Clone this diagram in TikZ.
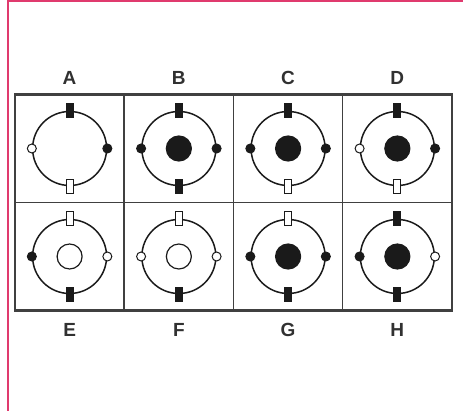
\documentclass[tikz,border=0pt]{standalone}
\usepackage{fontspec}
\setmainfont{Liberation Sans}
\usetikzlibrary{positioning}
\definecolor{pagepink}{HTML}{E03A6E}
\definecolor{inkgray}{HTML}{404040}
\definecolor{inkblack}{HTML}{1A1A1A}

\begin{document}
\begin{tikzpicture}[x=1pt, y=-1pt,
  cell/.style={rectangle, draw=inkgray, line width=1.5pt, minimum width=109.25pt,
               minimum height=108pt, inner sep=0pt, outer sep=0pt},
  ring/.style={circle, draw=inkblack, line width=1.5pt, minimum size=74pt, inner sep=0pt},
  pinbar/.style={rectangle, draw=inkblack, line width=1pt, minimum width=7pt,
                 minimum height=14pt, inner sep=0pt},
  pindot/.style={circle, draw=inkblack, line width=1pt, minimum size=9pt, inner sep=0pt},
  hub/.style={circle, draw=inkblack, line width=1.2pt, minimum size=25pt, inner sep=0pt},
  pinon/.style={fill=inkblack},
  pinoff/.style={fill=white},
  nohub/.style={draw=none},
  lbl/.style={font=\fontsize{19}{19}\selectfont\bfseries, text=inkblack!90}]
\useasboundingbox (0,0) rectangle (463,411);
% page edge
\draw[pagepink, line width=2pt] (7.5,411) -- (7.5,1.5) -- (463,1.5);

% name/col/row/top/bottom/left/right/hub
\foreach \n/\col/\row/\t/\b/\l/\r/\h in {
    A/0/0/pinon/pinoff/pinoff/pinon/nohub,
    B/1/0/pinon/pinon/pinon/pinon/pinon,
    C/2/0/pinon/pinoff/pinon/pinon/pinon,
    D/3/0/pinon/pinoff/pinoff/pinon/pinon,
    E/0/1/pinoff/pinon/pinon/pinoff/pinoff,
    F/1/1/pinoff/pinon/pinoff/pinoff/pinoff,
    G/2/1/pinoff/pinon/pinon/pinon/pinon,
    H/3/1/pinon/pinon/pinon/pinoff/pinon} {
  \node[cell] (c\n) at (69.6+109.25*\col, 148.5+108*\row) {};
  \node[ring] (r\n) at (c\n) {};
  \node[hub, \h] (h\n) at (c\n) {};
  \node[pinbar, \t] (pt\n) at (r\n.north) {};
  \node[pinbar, \b] (pb\n) at (r\n.south) {};
  \node[pindot, \l] (pl\n) at (r\n.west) {};
  \node[pindot, \r] (pr\n) at (r\n.east) {};
}
\draw[inkgray, line width=2.2pt] (cA.north west) rectangle (cH.south east);

\foreach \n in {A,B,C,D} \node[lbl, above=6pt of c\n] (l\n) {\n};
\foreach \n in {E,F,G,H} \node[lbl, below=9pt of c\n] (l\n) {\n};
\end{tikzpicture}
\end{document}
